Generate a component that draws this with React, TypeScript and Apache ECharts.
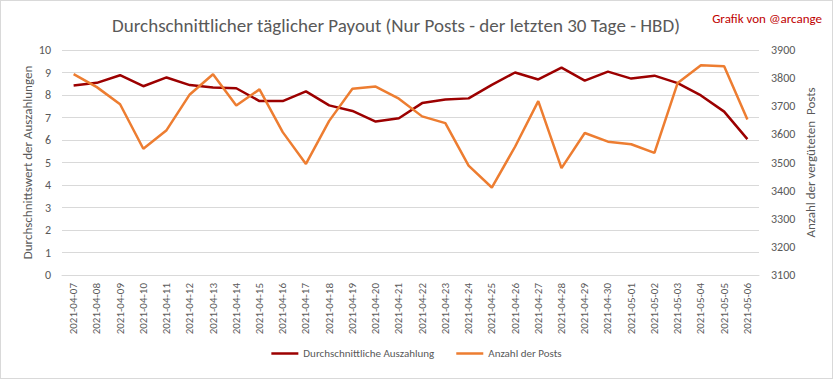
import React, { useEffect, useRef } from "react";
import * as echarts from "echarts";

const categories = [
  "2021-04-07", "2021-04-08", "2021-04-09", "2021-04-10", "2021-04-11", "2021-04-12",
  "2021-04-13", "2021-04-14", "2021-04-15", "2021-04-16", "2021-04-17", "2021-04-18",
  "2021-04-19", "2021-04-20", "2021-04-21", "2021-04-22", "2021-04-23", "2021-04-24",
  "2021-04-25", "2021-04-26", "2021-04-27", "2021-04-28", "2021-04-29", "2021-04-30",
  "2021-05-01", "2021-05-02", "2021-05-03", "2021-05-04", "2021-05-05", "2021-05-06",
];

const payout = [
  8.42, 8.54, 8.88, 8.39, 8.78, 8.44, 8.33, 8.30, 7.73, 7.73, 8.16, 7.54,
  7.29, 6.82, 6.97, 7.64, 7.80, 7.85, 8.45, 9.00, 8.69, 9.22, 8.64, 9.04,
  8.73, 8.86, 8.53, 7.98, 7.26, 6.04,
];

const posts = [
  3814, 3768, 3707, 3549, 3615, 3742, 3814, 3703, 3760, 3608, 3495, 3648,
  3762, 3770, 3727, 3664, 3640, 3489, 3411, 3556, 3718, 3480, 3605, 3574,
  3565, 3534, 3783, 3846, 3842, 3653,
];

const FONT = "Carlito, 'Liberation Sans Narrow', 'Open Sans', sans-serif";
const GREY = "#595959";

export default function App() {
  const ref = useRef<HTMLDivElement>(null);
  useEffect(() => {
    document.body.style.margin = "0";
    const chart = echarts.init(ref.current!, null, { renderer: "svg" });
    chart.setOption({
      animation: false,
      backgroundColor: "#ffffff",
      textStyle: { fontFamily: FONT },
      title: {
        text: "Durchschnittlicher täglicher Payout (Nur Posts - der letzten 30 Tage - HBD)",
        left: 390,
        top: 10,
        textAlign: "center",
        textStyle: { fontFamily: FONT, fontSize: 19, fontWeight: "normal", color: GREY },
      },
      graphic: [
        {
          type: "text",
          right: 10,
          top: 11,
          style: { text: "Grafik von @arcange", fill: "#c00000", font: `13px ${FONT}` },
        },
      ],
      legend: {
        bottom: 14,
        left: "center",
        icon: "rect",
        itemWidth: 27,
        itemHeight: 2.5,
        itemGap: 22,
        textStyle: { color: GREY, fontSize: 11, fontFamily: FONT },
        data: ["Durchschnittliche Auszahlung", "Anzahl der Posts"],
      },
      grid: { left: 61, right: 73, top: 49, bottom: 103 },
      xAxis: {
        type: "category",
        data: categories,
        boundaryGap: true,
        axisLine: { lineStyle: { color: "#d9d9d9" } },
        axisTick: { show: false },
        axisLabel: { rotate: 90, color: GREY, fontSize: 11, margin: 8, fontFamily: FONT, interval: 0 },
      },
      yAxis: [
        {
          type: "value",
          min: 0,
          max: 10,
          interval: 1,
          name: "Durchschnittswert der Auszahlungen",
          nameLocation: "middle",
          nameGap: 28,
          nameMoveOverlap: false,
          nameTextStyle: { color: GREY, fontSize: 13, fontFamily: FONT },
          axisLine: { show: false },
          axisTick: { show: false },
          axisLabel: { color: GREY, fontSize: 12, margin: 11, fontFamily: FONT },
          splitLine: { lineStyle: { color: "#d9d9d9", width: 1 } },
        },
        {
          type: "value",
          min: 3100,
          max: 3900,
          interval: 100,
          name: "Anzahl der vergüteten  Posts",
          nameLocation: "middle",
          nameGap: 45,
          nameMoveOverlap: false,
          nameRotate: 90,
          nameTextStyle: { color: GREY, fontSize: 13, fontFamily: FONT },
          axisLine: { show: false },
          axisTick: { show: false },
          axisLabel: {
            color: GREY,
            fontSize: 12,
            margin: 12,
            fontFamily: FONT,
            formatter: (v: number) => String(v),
          },
          splitLine: { show: false },
        },
      ],
      series: [
        {
          name: "Durchschnittliche Auszahlung",
          type: "line",
          data: payout,
          yAxisIndex: 0,
          symbol: "none",
          color: "#9c0000",
          lineStyle: { width: 2.5, color: "#9c0000" },
        },
        {
          name: "Anzahl der Posts",
          type: "line",
          data: posts,
          yAxisIndex: 1,
          symbol: "none",
          color: "#ed7d31",
          lineStyle: { width: 2.5, color: "#ed7d31" },
        },
      ],
    });
    return () => chart.dispose();
  }, []);
  return (
    <div
      ref={ref}
      style={{ width: 833, height: 379, boxSizing: "border-box", border: "1px solid #d9d9d9" }}
    />
  );
}
